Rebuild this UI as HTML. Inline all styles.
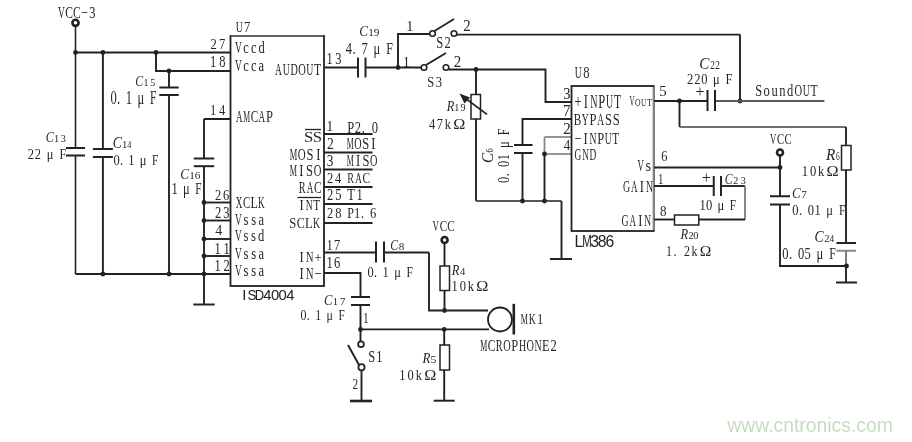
<!DOCTYPE html>
<html><head><meta charset="utf-8"><style>
html,body{margin:0;padding:0;background:#fff;width:912px;height:442px;overflow:hidden}
svg{display:block;will-change:transform}
</style></head><body>
<svg width="912" height="442" viewBox="0 0 912 442">
<text x="727.3" y="432" font-family="Liberation Sans" font-size="20.2" fill="#c6ddc2" textLength="165.5" lengthAdjust="spacingAndGlyphs">www.cntronics.com</text>
<circle cx="75.5" cy="22.8" r="3.1" fill="#fff" stroke="#222" stroke-width="2.6"/>
<line x1="75.5" y1="25.8" x2="75.5" y2="52.5" stroke="#222" stroke-width="1.6"/>
<line x1="75.5" y1="52.5" x2="230.5" y2="52.5" stroke="#222" stroke-width="1.9"/>
<circle cx="75.5" cy="52.5" r="2.4" fill="#222"/>
<circle cx="102.9" cy="52.5" r="2.4" fill="#222"/>
<circle cx="156" cy="52.5" r="2.4" fill="#222"/>
<line x1="75.5" y1="52.5" x2="75.5" y2="148" stroke="#222" stroke-width="1.6"/>
<line x1="75.5" y1="155.5" x2="75.5" y2="274" stroke="#222" stroke-width="1.6"/>
<line x1="66.0" y1="148" x2="85.0" y2="148" stroke="#222" stroke-width="2.0"/>
<line x1="66.0" y1="155.5" x2="85.0" y2="155.5" stroke="#222" stroke-width="2.0"/>
<line x1="102.9" y1="52.5" x2="102.9" y2="149" stroke="#222" stroke-width="1.9"/>
<line x1="102.9" y1="157" x2="102.9" y2="274" stroke="#222" stroke-width="1.9"/>
<line x1="92.9" y1="149" x2="112.9" y2="149" stroke="#222" stroke-width="2.0"/>
<line x1="92.9" y1="157" x2="112.9" y2="157" stroke="#222" stroke-width="2.0"/>
<polyline points="156,52.5 156,71 230.5,71" fill="none" stroke="#222" stroke-width="1.9"/>
<circle cx="169" cy="71" r="2.4" fill="#222"/>
<line x1="169" y1="71" x2="169" y2="87.5" stroke="#222" stroke-width="1.9"/>
<line x1="169" y1="95" x2="169" y2="274" stroke="#222" stroke-width="1.9"/>
<line x1="159.3" y1="87.5" x2="178.7" y2="87.5" stroke="#222" stroke-width="2.0"/>
<line x1="159.3" y1="95" x2="178.7" y2="95" stroke="#222" stroke-width="2.0"/>
<line x1="230.5" y1="119" x2="204" y2="119" stroke="#222" stroke-width="2.0"/>
<line x1="204" y1="119" x2="204" y2="158.5" stroke="#222" stroke-width="1.9"/>
<line x1="204" y1="166.2" x2="204" y2="304.5" stroke="#222" stroke-width="1.9"/>
<line x1="193.8" y1="158.5" x2="214.2" y2="158.5" stroke="#222" stroke-width="2.0"/>
<line x1="193.8" y1="166.2" x2="214.2" y2="166.2" stroke="#222" stroke-width="2.0"/>
<line x1="204" y1="202.5" x2="230.5" y2="202.5" stroke="#222" stroke-width="1.9"/>
<circle cx="204" cy="202.5" r="2.4" fill="#222"/>
<line x1="204" y1="220.5" x2="230.5" y2="220.5" stroke="#222" stroke-width="1.9"/>
<circle cx="204" cy="220.5" r="2.4" fill="#222"/>
<line x1="204" y1="239" x2="230.5" y2="239" stroke="#222" stroke-width="1.9"/>
<circle cx="204" cy="239" r="2.4" fill="#222"/>
<line x1="204" y1="256" x2="230.5" y2="256" stroke="#222" stroke-width="1.9"/>
<circle cx="204" cy="256" r="2.4" fill="#222"/>
<line x1="204" y1="274" x2="230.5" y2="274" stroke="#222" stroke-width="1.9"/>
<circle cx="204" cy="274" r="2.4" fill="#222"/>
<line x1="75.5" y1="274" x2="230.5" y2="274" stroke="#222" stroke-width="2.2"/>
<circle cx="102.9" cy="274" r="2.4" fill="#222"/>
<circle cx="169" cy="274" r="2.4" fill="#222"/>
<line x1="193.3" y1="304.5" x2="214.7" y2="304.5" stroke="#222" stroke-width="2.0"/>
<rect x="230.5" y="36" width="93.5" height="250" fill="#fff" stroke="#222" stroke-width="1.8"/>
<line x1="231.4" y1="36" x2="323.1" y2="36" stroke="#666" stroke-width="1.8"/>
<line x1="324" y1="134" x2="372.5" y2="134" stroke="#222" stroke-width="1.9"/>
<line x1="324" y1="152.5" x2="372.5" y2="152.5" stroke="#222" stroke-width="1.9"/>
<line x1="324" y1="169.5" x2="372.5" y2="169.5" stroke="#222" stroke-width="1.9"/>
<line x1="324" y1="187" x2="372.5" y2="187" stroke="#222" stroke-width="1.9"/>
<line x1="324" y1="204" x2="372.5" y2="204" stroke="#222" stroke-width="1.9"/>
<line x1="324" y1="223" x2="372.5" y2="223" stroke="#222" stroke-width="1.9"/>
<line x1="324" y1="67.5" x2="358" y2="67.5" stroke="#222" stroke-width="1.9"/>
<line x1="365.5" y1="67.5" x2="424" y2="67.5" stroke="#222" stroke-width="1.9"/>
<line x1="358" y1="57.5" x2="358" y2="77.5" stroke="#222" stroke-width="2.0"/>
<line x1="365.5" y1="57.5" x2="365.5" y2="77.5" stroke="#222" stroke-width="2.0"/>
<circle cx="398" cy="67.5" r="2.4" fill="#222"/>
<polyline points="398,67.5 398,34 430,34" fill="none" stroke="#222" stroke-width="1.9"/>
<polyline points="324,252.5 376,252.5" fill="none" stroke="#222" stroke-width="1.9"/>
<line x1="384" y1="252.5" x2="429" y2="252.5" stroke="#222" stroke-width="1.9"/>
<line x1="376" y1="241.5" x2="376" y2="262.5" stroke="#222" stroke-width="2.0"/>
<line x1="384" y1="241.5" x2="384" y2="262.5" stroke="#222" stroke-width="2.0"/>
<polyline points="429,252.5 429,310.5 488,310.5" fill="none" stroke="#222" stroke-width="1.9"/>
<polyline points="324,273 360.5,273 360.5,297" fill="none" stroke="#222" stroke-width="1.9"/>
<line x1="351" y1="297" x2="370" y2="297" stroke="#222" stroke-width="2.0"/>
<line x1="351" y1="305" x2="370" y2="305" stroke="#222" stroke-width="2.0"/>
<line x1="360.5" y1="305" x2="360.5" y2="329.4" stroke="#222" stroke-width="1.9"/>
<circle cx="360.5" cy="329.4" r="2.4" fill="#222"/>
<line x1="360.5" y1="329.4" x2="489" y2="329.4" stroke="#222" stroke-width="1.9"/>
<circle cx="361" cy="344.2" r="2.9" fill="#fff" stroke="#222" stroke-width="1.8"/>
<line x1="360.5" y1="329.4" x2="360.5" y2="341.5" stroke="#222" stroke-width="1.9"/>
<line x1="348" y1="345" x2="359" y2="365" stroke="#222" stroke-width="1.9"/>
<circle cx="361.5" cy="367.2" r="3.1" fill="#fff" stroke="#222" stroke-width="1.8"/>
<line x1="361.5" y1="370.3" x2="361.5" y2="401" stroke="#222" stroke-width="1.9"/>
<line x1="350" y1="401" x2="372" y2="401" stroke="#222" stroke-width="2.6"/>
<circle cx="444.6" cy="240" r="3.0" fill="#fff" stroke="#222" stroke-width="2.6"/>
<line x1="444.5" y1="242.3" x2="444.5" y2="310.5" stroke="#222" stroke-width="1.9"/>
<rect x="440" y="266" width="9.5" height="24.5" fill="#fff" stroke="#222" stroke-width="1.5"/>
<circle cx="444.5" cy="310.5" r="2.4" fill="#222"/>
<circle cx="444.2" cy="329.4" r="2.4" fill="#222"/>
<line x1="444.2" y1="329.4" x2="444.2" y2="400.7" stroke="#222" stroke-width="1.9"/>
<rect x="440" y="345" width="9.5" height="25" fill="#fff" stroke="#222" stroke-width="1.5"/>
<line x1="433.7" y1="400.7" x2="454.7" y2="400.7" stroke="#222" stroke-width="2.0"/>
<circle cx="500" cy="319.5" r="12" fill="#fff" stroke="#1e1e1e" stroke-width="1.8"/>
<line x1="513.8" y1="303.8" x2="513.8" y2="334.5" stroke="#222" stroke-width="2.6"/>
<circle cx="432.5" cy="33.5" r="2.8" fill="#fff" stroke="#222" stroke-width="1.6"/>
<circle cx="454" cy="33.5" r="2.8" fill="#fff" stroke="#222" stroke-width="1.6"/>
<line x1="434.5" y1="31" x2="454" y2="19" stroke="#222" stroke-width="1.9"/>
<line x1="456.8" y1="34.6" x2="740" y2="34.6" stroke="#222" stroke-width="1.9"/>
<polyline points="740,34.6 740,101" fill="none" stroke="#222" stroke-width="1.9"/>
<circle cx="740" cy="101" r="2.4" fill="#222"/>
<circle cx="424" cy="67.5" r="2.8" fill="#fff" stroke="#222" stroke-width="1.6"/>
<circle cx="446" cy="67.5" r="2.8" fill="#fff" stroke="#222" stroke-width="1.6"/>
<line x1="426" y1="65" x2="446" y2="53" stroke="#222" stroke-width="1.9"/>
<polyline points="448.8,69.5 545.5,69.5 545.5,102 571,102" fill="none" stroke="#222" stroke-width="1.9"/>
<circle cx="476" cy="69.5" r="2.4" fill="#222"/>
<line x1="476" y1="69.5" x2="476" y2="201" stroke="#222" stroke-width="1.9"/>
<rect x="471" y="94.5" width="9.5" height="24.5" fill="#fff" stroke="#222" stroke-width="1.5"/>
<line x1="463" y1="96.5" x2="487" y2="114.4" stroke="#222" stroke-width="1.8"/>
<polygon points="459.5,93.5 470,97.5 464.5,103.5" fill="#222"/>
<line x1="476" y1="201" x2="561.5" y2="201" stroke="#555" stroke-width="1.9"/>
<line x1="561.5" y1="201" x2="561.5" y2="259" stroke="#222" stroke-width="1.9"/>
<line x1="550" y1="259" x2="572" y2="259" stroke="#222" stroke-width="2.0"/>
<polyline points="571,119 522.5,119 522.5,145" fill="none" stroke="#222" stroke-width="1.9"/>
<line x1="514" y1="145" x2="532.5" y2="145" stroke="#222" stroke-width="2.0"/>
<line x1="514" y1="153" x2="532.5" y2="153" stroke="#222" stroke-width="2.0"/>
<line x1="522.5" y1="153" x2="522.5" y2="201" stroke="#222" stroke-width="1.9"/>
<circle cx="522.5" cy="201" r="2.4" fill="#222"/>
<line x1="544.5" y1="137" x2="571" y2="137" stroke="#8a8a8a" stroke-width="1.8"/>
<line x1="544.5" y1="154" x2="571" y2="154" stroke="#8a8a8a" stroke-width="1.8"/>
<line x1="544.5" y1="137" x2="544.5" y2="154" stroke="#8a8a8a" stroke-width="1.8"/>
<line x1="544.5" y1="154" x2="544.5" y2="201" stroke="#222" stroke-width="1.9"/>
<circle cx="544.5" cy="154" r="2.4" fill="#222"/>
<circle cx="544.5" cy="201" r="2.4" fill="#222"/>
<rect x="571.5" y="86" width="82.25" height="145" fill="#fff" stroke="#222" stroke-width="1.8"/>
<line x1="653.75" y1="87" x2="653.75" y2="230" stroke="#858585" stroke-width="1.8"/>
<line x1="654" y1="101" x2="707.5" y2="101" stroke="#222" stroke-width="1.9"/>
<line x1="715" y1="101" x2="824.4" y2="101" stroke="#5a5a5a" stroke-width="1.9"/>
<line x1="707.5" y1="90" x2="707.5" y2="111" stroke="#222" stroke-width="2.0"/>
<line x1="715" y1="90" x2="715" y2="111" stroke="#222" stroke-width="2.0"/>
<circle cx="679.5" cy="101" r="2.4" fill="#222"/>
<line x1="679.5" y1="101" x2="679.5" y2="127" stroke="#222" stroke-width="1.9"/>
<line x1="679.5" y1="127" x2="846" y2="127" stroke="#707070" stroke-width="1.9"/>
<line x1="846" y1="127" x2="846" y2="243" stroke="#222" stroke-width="1.9"/>
<rect x="841.5" y="145.5" width="9.5" height="24.5" fill="#fff" stroke="#222" stroke-width="1.5"/>
<line x1="836.5" y1="243" x2="856" y2="243" stroke="#222" stroke-width="2.0"/>
<line x1="836.5" y1="250.75" x2="856" y2="250.75" stroke="#8a8a8a" stroke-width="2.0"/>
<line x1="846" y1="250.75" x2="846" y2="266" stroke="#777" stroke-width="1.9"/>
<line x1="846" y1="266" x2="846" y2="282.5" stroke="#222" stroke-width="1.9"/>
<line x1="836.0" y1="282.5" x2="857.0" y2="282.5" stroke="#222" stroke-width="2.0"/>
<circle cx="846.5" cy="266" r="2.4" fill="#222"/>
<line x1="654" y1="167.5" x2="780" y2="167.5" stroke="#222" stroke-width="1.9"/>
<circle cx="780" cy="167.5" r="2.4" fill="#222"/>
<circle cx="780" cy="152.5" r="3.0" fill="#fff" stroke="#222" stroke-width="2.6"/>
<line x1="780" y1="155.3" x2="780" y2="196.25" stroke="#222" stroke-width="1.9"/>
<line x1="770" y1="196.25" x2="790" y2="196.25" stroke="#222" stroke-width="2.0"/>
<line x1="770" y1="204.5" x2="790" y2="204.5" stroke="#222" stroke-width="2.0"/>
<polyline points="780,204.5 780,266 846,266" fill="none" stroke="#222" stroke-width="1.9"/>
<line x1="654" y1="186" x2="713.75" y2="186" stroke="#222" stroke-width="1.9"/>
<line x1="713.75" y1="176" x2="713.75" y2="196" stroke="#222" stroke-width="2.0"/>
<line x1="721" y1="176" x2="721" y2="196" stroke="#222" stroke-width="2.0"/>
<line x1="721" y1="186" x2="745" y2="186" stroke="#222" stroke-width="1.9"/>
<line x1="745" y1="186" x2="745" y2="219.5" stroke="#7a7a7a" stroke-width="1.8"/>
<line x1="745" y1="219.5" x2="698.75" y2="219.5" stroke="#222" stroke-width="1.9"/>
<line x1="654" y1="219.5" x2="674.5" y2="219.5" stroke="#222" stroke-width="1.9"/>
<rect x="674.5" y="215" width="24.25" height="10" fill="#fff" stroke="#222" stroke-width="1.5"/>
<g font-family="Liberation Serif" fill="#262626"><text transform="matrix(0.538 0 0 1 57.89 17.5)" font-size="17.56">V</text><text transform="matrix(0.659 0 0 1 65.30 17.5)" font-size="17.56">C</text><text transform="matrix(0.659 0 0 1 73.08 17.5)" font-size="17.56">C</text><text transform="matrix(0.713 0 0 1 81.10 17.5)" font-size="17.56">−</text><text transform="matrix(0.713 0 0 1 89.23 17.5)" font-size="17.56">3</text></g>
<g font-family="Liberation Serif" fill="#262626"><text transform="matrix(0.820 0 0 1 210.45 49)" font-size="15.27">2</text><text transform="matrix(0.820 0 0 1 219.10 49)" font-size="15.27">7</text></g>
<g font-family="Liberation Serif" fill="#262626"><text transform="matrix(0.745 0 0 1 209.90 67)" font-size="16.80">1</text><text transform="matrix(0.745 0 0 1 219.22 67)" font-size="16.80">8</text></g>
<g font-family="Liberation Serif" fill="#262626"><text transform="matrix(0.865 0 0 1 135.34 86)" font-size="13.74" font-style="italic">C</text></g>
<g font-family="Liberation Serif" fill="#262626"><text transform="matrix(1.050 0 0 1 143.39 86)" font-size="9.62">1</text><text transform="matrix(1.050 0 0 1 150.34 86)" font-size="9.62">5</text></g>
<g font-family="Liberation Serif" fill="#262626"><text transform="matrix(0.683 0 0 1 110.52 104)" font-size="18.33">0</text><text transform="matrix(0.683 0 0 1 117.11 104)" font-size="18.33">.</text><text transform="matrix(0.683 0 0 1 125.75 104)" font-size="18.33">1</text><text transform="matrix(0.683 0 0 1 137.50 104)" font-size="18.33">μ</text><text transform="matrix(0.632 0 0 1 149.98 104)" font-size="18.33">F</text></g>
<g font-family="Liberation Serif" fill="#262626"><text transform="matrix(0.865 0 0 1 45.82 141.8)" font-size="14.05" font-style="italic">C</text></g>
<g font-family="Liberation Serif" fill="#262626"><text transform="matrix(1.050 0 0 1 54.06 141.8)" font-size="9.84">1</text><text transform="matrix(1.050 0 0 1 60.84 141.8)" font-size="9.84">3</text></g>
<g font-family="Liberation Serif" fill="#262626"><text transform="matrix(0.820 0 0 1 27.85 158.5)" font-size="15.27">2</text><text transform="matrix(0.820 0 0 1 34.75 158.5)" font-size="15.27">2</text><text transform="matrix(0.820 0 0 1 46.63 158.5)" font-size="15.27">μ</text><text transform="matrix(0.782 0 0 1 59.39 158.5)" font-size="15.27">F</text></g>
<g font-family="Liberation Serif" fill="#262626"><text transform="matrix(0.865 0 0 1 112.64 148.1)" font-size="15.88" font-style="italic">C</text></g>
<g font-family="Liberation Serif" fill="#262626"><text transform="matrix(0.969 0 0 1 122.02 148.1)" font-size="11.12">1</text><text transform="matrix(0.734 0 0 1 127.25 148.1)" font-size="11.12">4</text></g>
<g font-family="Liberation Serif" fill="#262626"><text transform="matrix(0.828 0 0 1 113.52 164.8)" font-size="15.12">0</text><text transform="matrix(0.828 0 0 1 119.98 164.8)" font-size="15.12">.</text><text transform="matrix(0.828 0 0 1 128.35 164.8)" font-size="15.12">1</text><text transform="matrix(0.828 0 0 1 139.78 164.8)" font-size="15.12">μ</text><text transform="matrix(0.746 0 0 1 152.03 164.8)" font-size="15.12">F</text></g>
<g font-family="Liberation Serif" fill="#262626"><text transform="matrix(0.820 0 0 1 209.90 115)" font-size="15.27">1</text><text transform="matrix(0.820 0 0 1 218.93 115)" font-size="15.27">4</text></g>
<g font-family="Liberation Serif" fill="#262626"><text transform="matrix(0.542 0 0 1 235.91 122)" font-size="16.80">A</text><text transform="matrix(0.460 0 0 1 243.34 122)" font-size="16.80">M</text><text transform="matrix(0.670 0 0 1 250.66 122)" font-size="16.80">C</text><text transform="matrix(0.542 0 0 1 258.59 122)" font-size="16.80">A</text><text transform="matrix(0.745 0 0 1 266.04 122)" font-size="16.80">P</text></g>
<g font-family="Liberation Serif" fill="#262626"><text transform="matrix(0.865 0 0 1 180.26 179)" font-size="15.27" font-style="italic">C</text></g>
<g font-family="Liberation Serif" fill="#262626"><text transform="matrix(1.050 0 0 1 189.21 179)" font-size="10.69">1</text><text transform="matrix(1.050 0 0 1 194.72 179)" font-size="10.69">6</text></g>
<g font-family="Liberation Serif" fill="#262626"><text transform="matrix(0.713 0 0 1 171.50 194.3)" font-size="17.56">1</text><text transform="matrix(0.713 0 0 1 182.91 194.3)" font-size="17.56">μ</text><text transform="matrix(0.641 0 0 1 195.14 194.3)" font-size="17.56">F</text></g>
<g font-family="Liberation Serif" fill="#262626"><text transform="matrix(0.820 0 0 1 214.95 200)" font-size="15.27">2</text><text transform="matrix(0.820 0 0 1 223.11 200)" font-size="15.27">6</text></g>
<g font-family="Liberation Serif" fill="#262626"><text transform="matrix(0.521 0 0 1 235.80 207.5)" font-size="17.56">X</text><text transform="matrix(0.623 0 0 1 242.97 207.5)" font-size="17.56">C</text><text transform="matrix(0.681 0 0 1 250.49 207.5)" font-size="17.56">L</text><text transform="matrix(0.520 0 0 1 258.00 207.5)" font-size="17.56">K</text></g>
<g font-family="Liberation Serif" fill="#262626"><text transform="matrix(0.781 0 0 1 214.95 218)" font-size="16.04">2</text><text transform="matrix(0.781 0 0 1 223.23 218)" font-size="16.04">3</text></g>
<g font-family="Liberation Serif" fill="#262626"><text transform="matrix(0.560 0 0 1 234.89 225)" font-size="16.80">V</text><text transform="matrix(0.745 0 0 1 243.57 225)" font-size="16.80">s</text><text transform="matrix(0.745 0 0 1 251.31 225)" font-size="16.80">s</text><text transform="matrix(0.745 0 0 1 258.61 225)" font-size="16.80">a</text></g>
<g font-family="Liberation Serif" fill="#262626"><text transform="matrix(0.916 0 0 1 215.23 235)" font-size="15.27">4</text></g>
<g font-family="Liberation Serif" fill="#262626"><text transform="matrix(0.552 0 0 1 234.90 241)" font-size="16.80">V</text><text transform="matrix(0.745 0 0 1 243.42 241)" font-size="16.80">s</text><text transform="matrix(0.745 0 0 1 251.06 241)" font-size="16.80">s</text><text transform="matrix(0.745 0 0 1 257.89 241)" font-size="16.80">d</text></g>
<g font-family="Liberation Serif" fill="#262626"><text transform="matrix(0.713 0 0 1 214.40 254)" font-size="17.56">1</text><text transform="matrix(0.713 0 0 1 223.49 254)" font-size="17.56">1</text></g>
<g font-family="Liberation Serif" fill="#262626"><text transform="matrix(0.535 0 0 1 234.89 259)" font-size="17.56">V</text><text transform="matrix(0.713 0 0 1 243.57 259)" font-size="17.56">s</text><text transform="matrix(0.713 0 0 1 251.31 259)" font-size="17.56">s</text><text transform="matrix(0.713 0 0 1 258.61 259)" font-size="17.56">a</text></g>
<g font-family="Liberation Serif" fill="#262626"><text transform="matrix(0.745 0 0 1 214.40 271)" font-size="16.80">1</text><text transform="matrix(0.745 0 0 1 223.43 271)" font-size="16.80">2</text></g>
<g font-family="Liberation Serif" fill="#262626"><text transform="matrix(0.586 0 0 1 234.89 276)" font-size="16.04">V</text><text transform="matrix(0.781 0 0 1 243.57 276)" font-size="16.04">s</text><text transform="matrix(0.781 0 0 1 251.31 276)" font-size="16.04">s</text><text transform="matrix(0.781 0 0 1 258.61 276)" font-size="16.04">a</text></g>
<g font-family="Liberation Sans" fill="#222"><text transform="matrix(1.000 0 0 1 242.33 299.5)" font-size="14.83">I</text><text transform="matrix(0.898 0 0 1 247.62 299.5)" font-size="14.83">S</text><text transform="matrix(0.873 0 0 1 254.82 299.5)" font-size="14.83">D</text><text transform="matrix(1.000 0 0 1 263.30 299.5)" font-size="14.83">4</text><text transform="matrix(1.000 0 0 1 270.92 299.5)" font-size="14.83">0</text><text transform="matrix(1.000 0 0 1 278.58 299.5)" font-size="14.83">0</text><text transform="matrix(1.000 0 0 1 286.29 299.5)" font-size="14.83">4</text></g>
<g font-family="Liberation Serif" fill="#262626"><text transform="matrix(0.646 0 0 1 235.79 32)" font-size="15.27">U</text><text transform="matrix(0.820 0 0 1 244.10 32)" font-size="15.27">7</text></g>
<g font-family="Liberation Serif" fill="#262626"><text transform="matrix(0.589 0 0 1 234.89 53)" font-size="16.04">V</text><text transform="matrix(0.781 0 0 1 243.27 53)" font-size="16.04">c</text><text transform="matrix(0.781 0 0 1 251.06 53)" font-size="16.04">c</text><text transform="matrix(0.781 0 0 1 258.39 53)" font-size="16.04">d</text></g>
<g font-family="Liberation Serif" fill="#262626"><text transform="matrix(0.560 0 0 1 234.89 71)" font-size="16.80">V</text><text transform="matrix(0.745 0 0 1 243.21 71)" font-size="16.80">c</text><text transform="matrix(0.745 0 0 1 250.96 71)" font-size="16.80">c</text><text transform="matrix(0.745 0 0 1 258.61 71)" font-size="16.80">a</text></g>
<g font-family="Liberation Serif" fill="#262626"><text transform="matrix(0.591 0 0 1 274.91 74.5)" font-size="16.04">A</text><text transform="matrix(0.612 0 0 1 282.66 74.5)" font-size="16.04">U</text><text transform="matrix(0.637 0 0 1 290.43 74.5)" font-size="16.04">D</text><text transform="matrix(0.650 0 0 1 298.17 74.5)" font-size="16.04">O</text><text transform="matrix(0.612 0 0 1 306.25 74.5)" font-size="16.04">U</text><text transform="matrix(0.723 0 0 1 314.11 74.5)" font-size="16.04">T</text></g>
<g font-family="Liberation Serif" fill="#262626"><text transform="matrix(0.732 0 0 1 326.40 64)" font-size="17.10">1</text><text transform="matrix(0.732 0 0 1 335.23 64)" font-size="17.10">3</text></g>
<g font-family="Liberation Serif" fill="#262626"><text transform="matrix(0.865 0 0 1 359.26 36)" font-size="15.27" font-style="italic">C</text></g>
<g font-family="Liberation Serif" fill="#262626"><text transform="matrix(1.050 0 0 1 368.21 36)" font-size="10.69">1</text><text transform="matrix(1.050 0 0 1 373.85 36)" font-size="10.69">9</text></g>
<g font-family="Liberation Serif" fill="#262626"><text transform="matrix(0.713 0 0 1 345.76 54)" font-size="17.56">4</text><text transform="matrix(0.713 0 0 1 352.51 54)" font-size="17.56">.</text><text transform="matrix(0.713 0 0 1 361.40 54)" font-size="17.56">7</text><text transform="matrix(0.713 0 0 1 373.56 54)" font-size="17.56">μ</text><text transform="matrix(0.679 0 0 1 386.30 54)" font-size="17.56">F</text></g>
<g font-family="Liberation Serif" fill="#262626"><text transform="matrix(0.930 0 0 1 406.25 31)" font-size="15.27">1</text></g>
<g font-family="Liberation Serif" fill="#262626"><text transform="matrix(0.979 0 0 1 402.75 67)" font-size="14.51">1</text></g>
<g font-family="Liberation Serif" fill="#262626"><text transform="matrix(0.781 0 0 1 436.16 48)" font-size="16.04">S</text><text transform="matrix(0.781 0 0 1 444.43 48)" font-size="16.04">2</text></g>
<g font-family="Liberation Serif" fill="#262626"><text transform="matrix(0.891 0 0 1 463.34 31)" font-size="16.80">2</text></g>
<g font-family="Liberation Serif" fill="#262626"><text transform="matrix(0.820 0 0 1 427.16 86.8)" font-size="15.27">S</text><text transform="matrix(0.820 0 0 1 435.63 86.8)" font-size="15.27">3</text></g>
<g font-family="Liberation Serif" fill="#262626"><text transform="matrix(0.891 0 0 1 453.84 67)" font-size="16.80">2</text></g>
<g font-family="Liberation Serif" fill="#262626"><text transform="matrix(0.608 0 0 1 574.80 77.5)" font-size="16.04">U</text><text transform="matrix(0.781 0 0 1 583.22 77.5)" font-size="16.04">8</text></g>
<g font-family="Liberation Serif" fill="#262626"><text transform="matrix(0.827 0 0 1 563.30 99)" font-size="17.56">3</text></g>
<g font-family="Liberation Serif" fill="#262626"><text transform="matrix(0.656 0 0 1 574.38 107.5)" font-size="19.09">+</text><text transform="matrix(0.656 0 0 1 583.76 107.5)" font-size="19.09">I</text><text transform="matrix(0.527 0 0 1 590.13 107.5)" font-size="19.09">N</text><text transform="matrix(0.656 0 0 1 598.33 107.5)" font-size="19.09">P</text><text transform="matrix(0.520 0 0 1 606.10 107.5)" font-size="19.09">U</text><text transform="matrix(0.614 0 0 1 614.04 107.5)" font-size="19.09">T</text></g>
<g font-family="Liberation Serif" fill="#262626"><text transform="matrix(0.895 0 0 1 446.87 111)" font-size="13.90" font-style="italic">R</text></g>
<g font-family="Liberation Serif" fill="#262626"><text transform="matrix(1.050 0 0 1 454.27 111)" font-size="9.73">1</text><text transform="matrix(1.050 0 0 1 460.51 111)" font-size="9.73">9</text></g>
<g font-family="Liberation Serif" fill="#262626"><text transform="matrix(0.812 0 0 1 428.96 128.7)" font-size="15.42">4</text><text transform="matrix(0.812 0 0 1 436.71 128.7)" font-size="15.42">7</text><text transform="matrix(0.812 0 0 1 444.79 128.7)" font-size="15.42">k</text><text transform="matrix(1.055 0 0 1 453.14 128.7)" font-size="15.42">Ω</text></g>
<g font-family="Liberation Serif" fill="#262626"><text transform="matrix(0.881 0 0 1 563.02 116)" font-size="16.80">7</text></g>
<g font-family="Liberation Serif" fill="#262626"><text transform="matrix(0.670 0 0 1 573.68 125)" font-size="16.80">B</text><text transform="matrix(0.576 0 0 1 581.69 125)" font-size="16.80">Y</text><text transform="matrix(0.745 0 0 1 589.51 125)" font-size="16.80">P</text><text transform="matrix(0.560 0 0 1 597.31 125)" font-size="16.80">A</text><text transform="matrix(0.745 0 0 1 605.01 125)" font-size="16.80">S</text><text transform="matrix(0.745 0 0 1 612.81 125)" font-size="16.80">S</text></g>
<g font-family="Liberation Serif" fill="#262626"><text transform="matrix(0.852 0 0 1 563.34 134)" font-size="17.56">2</text></g>
<g font-family="Liberation Serif" fill="#262626"><text transform="matrix(0.713 0 0 1 574.38 144)" font-size="17.56">−</text><text transform="matrix(0.713 0 0 1 583.40 144)" font-size="17.56">I</text><text transform="matrix(0.547 0 0 1 589.57 144)" font-size="17.56">N</text><text transform="matrix(0.713 0 0 1 597.22 144)" font-size="17.56">P</text><text transform="matrix(0.539 0 0 1 604.79 144)" font-size="17.56">U</text><text transform="matrix(0.636 0 0 1 612.36 144)" font-size="17.56">T</text></g>
<g font-family="Liberation Serif" fill="#262626"><text transform="matrix(0.845 0 0 1 563.75 150)" font-size="15.27">4</text></g>
<g font-family="Liberation Serif" fill="#262626"><text transform="matrix(0.560 0 0 1 574.61 160)" font-size="16.80">G</text><text transform="matrix(0.543 0 0 1 582.18 160)" font-size="16.80">N</text><text transform="matrix(0.557 0 0 1 589.61 160)" font-size="16.80">D</text></g>
<g transform="translate(492.5,162.2) rotate(-90) translate(0,-152)"><g font-family="Liberation Serif" fill="#262626"><text transform="matrix(0.971 0 0 1 -0.85 152)" font-size="15.73" font-style="italic">C</text></g></g>
<g transform="translate(492.5,162.2) rotate(-90) translate(0,-152)"><g font-family="Liberation Serif" fill="#262626"><text transform="matrix(0.895 0 0 1 9.63 152)" font-size="9.44">6</text></g></g>
<g transform="translate(508.8,182.5) rotate(-90) translate(0,-182.5)"><g font-family="Liberation Serif" fill="#262626"><text transform="matrix(0.781 0 0 1 -0.48 182.5)" font-size="16.04">0</text><text transform="matrix(0.781 0 0 1 6.29 182.5)" font-size="16.04">.</text><text transform="matrix(0.781 0 0 1 15.49 182.5)" font-size="16.04">0</text><text transform="matrix(0.781 0 0 1 22.26 182.5)" font-size="16.04">1</text><text transform="matrix(0.781 0 0 1 34.45 182.5)" font-size="16.04">μ</text><text transform="matrix(0.749 0 0 1 47.25 182.5)" font-size="16.04">F</text></g></g>
<g font-family="Liberation Sans" fill="#222"><text transform="matrix(1.000 0 0 1 574.51 246.8)" font-size="15.70">L</text><text transform="matrix(0.729 0 0 1 582.15 246.8)" font-size="15.70">M</text><text transform="matrix(1.000 0 0 1 590.25 246.8)" font-size="15.70">3</text><text transform="matrix(1.000 0 0 1 597.86 246.8)" font-size="15.70">8</text><text transform="matrix(1.000 0 0 1 605.46 246.8)" font-size="15.70">6</text></g>
<g font-family="Liberation Serif" fill="#262626"><text transform="matrix(0.589 0 0 1 432.40 231)" font-size="15.27">V</text><text transform="matrix(0.722 0 0 1 439.65 231)" font-size="15.27">C</text><text transform="matrix(0.722 0 0 1 447.25 231)" font-size="15.27">C</text></g>
<g font-family="Liberation Serif" fill="#262626"><text transform="matrix(0.895 0 0 1 451.87 274.6)" font-size="14.05" font-style="italic">R</text></g>
<g font-family="Liberation Serif" fill="#262626"><text transform="matrix(1.080 0 0 1 460.06 274.6)" font-size="9.84">4</text></g>
<g font-family="Liberation Serif" fill="#262626"><text transform="matrix(0.820 0 0 1 451.40 291)" font-size="15.27">1</text><text transform="matrix(0.820 0 0 1 459.69 291)" font-size="15.27">0</text><text transform="matrix(0.820 0 0 1 467.68 291)" font-size="15.27">k</text><text transform="matrix(1.066 0 0 1 476.24 291)" font-size="15.27">Ω</text></g>
<g font-family="Liberation Serif" fill="#262626"><text transform="matrix(0.930 0 0 1 326.25 131)" font-size="15.27">1</text></g>
<g font-family="Liberation Serif" fill="#262626"><text transform="matrix(0.781 0 0 1 347.14 132.5)" font-size="16.04">P</text><text transform="matrix(0.781 0 0 1 354.85 132.5)" font-size="16.04">2</text><text transform="matrix(0.781 0 0 1 361.87 132.5)" font-size="16.04">.</text><text transform="matrix(0.781 0 0 1 371.72 132.5)" font-size="16.04">0</text></g>
<g font-family="Liberation Serif" fill="#262626"><text transform="matrix(1.150 0 0 1 303.88 142)" font-size="14.51">S</text><text transform="matrix(1.150 0 0 1 312.76 142)" font-size="14.51">S</text></g>
<line x1="305" y1="129.5" x2="321" y2="129.5" stroke="#262626" stroke-width="1.3"/>
<g font-family="Liberation Serif" fill="#262626"><text transform="matrix(0.781 0 0 1 326.90 149)" font-size="17.56">2</text></g>
<g font-family="Liberation Serif" fill="#262626"><text transform="matrix(0.447 0 0 1 346.77 149)" font-size="17.56">M</text><text transform="matrix(0.581 0 0 1 354.28 149)" font-size="17.56">O</text><text transform="matrix(0.713 0 0 1 362.15 149)" font-size="17.56">S</text><text transform="matrix(0.713 0 0 1 371.27 149)" font-size="17.56">I</text></g>
<g font-family="Liberation Serif" fill="#262626"><text transform="matrix(0.527 0 0 1 289.76 159.5)" font-size="16.04">M</text><text transform="matrix(0.685 0 0 1 297.83 159.5)" font-size="16.04">O</text><text transform="matrix(0.781 0 0 1 306.57 159.5)" font-size="16.04">S</text><text transform="matrix(0.781 0 0 1 316.27 159.5)" font-size="16.04">I</text></g>
<g font-family="Liberation Serif" fill="#262626"><text transform="matrix(0.830 0 0 1 326.86 165.5)" font-size="16.04">3</text></g>
<g font-family="Liberation Serif" fill="#262626"><text transform="matrix(0.493 0 0 1 346.77 165.5)" font-size="16.04">M</text><text transform="matrix(0.781 0 0 1 356.00 165.5)" font-size="16.04">I</text><text transform="matrix(0.781 0 0 1 362.39 165.5)" font-size="16.04">S</text><text transform="matrix(0.639 0 0 1 370.01 165.5)" font-size="16.04">O</text></g>
<g font-family="Liberation Serif" fill="#262626"><text transform="matrix(0.510 0 0 1 289.76 176)" font-size="16.04">M</text><text transform="matrix(0.781 0 0 1 299.37 176)" font-size="16.04">I</text><text transform="matrix(0.781 0 0 1 306.02 176)" font-size="16.04">S</text><text transform="matrix(0.661 0 0 1 313.77 176)" font-size="16.04">O</text></g>
<g font-family="Liberation Serif" fill="#262626"><text transform="matrix(0.820 0 0 1 326.95 182.5)" font-size="15.27">2</text><text transform="matrix(0.820 0 0 1 334.93 182.5)" font-size="15.27">4</text></g>
<g font-family="Liberation Serif" fill="#262626"><text transform="matrix(0.667 0 0 1 347.21 182.5)" font-size="15.27">R</text><text transform="matrix(0.602 0 0 1 355.17 182.5)" font-size="15.27">A</text><text transform="matrix(0.744 0 0 1 362.55 182.5)" font-size="15.27">C</text></g>
<g font-family="Liberation Serif" fill="#262626"><text transform="matrix(0.635 0 0 1 298.71 193)" font-size="16.04">R</text><text transform="matrix(0.574 0 0 1 306.67 193)" font-size="16.04">A</text><text transform="matrix(0.708 0 0 1 314.05 193)" font-size="16.04">C</text></g>
<g font-family="Liberation Serif" fill="#262626"><text transform="matrix(0.745 0 0 1 326.95 200)" font-size="16.80">2</text><text transform="matrix(0.745 0 0 1 335.23 200)" font-size="16.80">5</text></g>
<g font-family="Liberation Serif" fill="#262626"><text transform="matrix(0.745 0 0 1 347.27 200)" font-size="16.80">T</text><text transform="matrix(0.745 0 0 1 356.49 200)" font-size="16.80">1</text></g>
<g font-family="Liberation Serif" fill="#262626"><text transform="matrix(0.820 0 0 1 299.55 210)" font-size="15.27">I</text><text transform="matrix(0.628 0 0 1 305.72 210)" font-size="15.27">N</text><text transform="matrix(0.731 0 0 1 313.37 210)" font-size="15.27">T</text></g>
<line x1="297.5" y1="197.5" x2="321" y2="197.5" stroke="#262626" stroke-width="1.3"/>
<g font-family="Liberation Serif" fill="#262626"><text transform="matrix(0.820 0 0 1 326.95 217.5)" font-size="15.27">2</text><text transform="matrix(0.820 0 0 1 335.22 217.5)" font-size="15.27">8</text></g>
<g font-family="Liberation Serif" fill="#262626"><text transform="matrix(0.792 0 0 1 347.15 217.5)" font-size="15.27">P</text><text transform="matrix(0.820 0 0 1 354.07 217.5)" font-size="15.27">1</text><text transform="matrix(0.820 0 0 1 361.01 217.5)" font-size="15.27">.</text><text transform="matrix(0.820 0 0 1 370.11 217.5)" font-size="15.27">6</text></g>
<g font-family="Liberation Serif" fill="#262626"><text transform="matrix(0.820 0 0 1 289.16 228)" font-size="15.27">S</text><text transform="matrix(0.777 0 0 1 296.78 228)" font-size="15.27">C</text><text transform="matrix(0.820 0 0 1 305.00 228)" font-size="15.27">L</text><text transform="matrix(0.650 0 0 1 312.94 228)" font-size="15.27">K</text></g>
<g font-family="Liberation Serif" fill="#262626"><text transform="matrix(0.820 0 0 1 299.55 262)" font-size="15.27">I</text><text transform="matrix(0.683 0 0 1 306.07 262)" font-size="15.27">N</text><text transform="matrix(0.820 0 0 1 314.55 262)" font-size="15.27">+</text></g>
<g font-family="Liberation Serif" fill="#262626"><text transform="matrix(0.781 0 0 1 299.55 278.5)" font-size="16.04">I</text><text transform="matrix(0.650 0 0 1 306.07 278.5)" font-size="16.04">N</text><text transform="matrix(0.781 0 0 1 314.55 278.5)" font-size="16.04">−</text></g>
<g font-family="Liberation Serif" fill="#262626"><text transform="matrix(0.820 0 0 1 326.40 250)" font-size="15.27">1</text><text transform="matrix(0.820 0 0 1 334.10 250)" font-size="15.27">7</text></g>
<g font-family="Liberation Serif" fill="#262626"><text transform="matrix(0.781 0 0 1 326.40 268)" font-size="16.04">1</text><text transform="matrix(0.781 0 0 1 334.11 268)" font-size="16.04">6</text></g>
<g font-family="Liberation Serif" fill="#262626"><text transform="matrix(0.865 0 0 1 390.34 250)" font-size="13.74" font-style="italic">C</text></g>
<g font-family="Liberation Serif" fill="#262626"><text transform="matrix(1.157 0 0 1 398.86 250)" font-size="9.62">8</text></g>
<g font-family="Liberation Serif" fill="#262626"><text transform="matrix(0.820 0 0 1 367.52 277)" font-size="15.27">0</text><text transform="matrix(0.820 0 0 1 374.05 277)" font-size="15.27">.</text><text transform="matrix(0.820 0 0 1 382.57 277)" font-size="15.27">1</text><text transform="matrix(0.820 0 0 1 394.17 277)" font-size="15.27">μ</text><text transform="matrix(0.750 0 0 1 406.55 277)" font-size="15.27">F</text></g>
<g font-family="Liberation Serif" fill="#262626"><text transform="matrix(0.865 0 0 1 324.09 305)" font-size="14.66" font-style="italic">C</text></g>
<g font-family="Liberation Serif" fill="#262626"><text transform="matrix(1.050 0 0 1 332.68 305)" font-size="10.26">1</text><text transform="matrix(1.050 0 0 1 339.92 305)" font-size="10.26">7</text></g>
<g font-family="Liberation Serif" fill="#262626"><text transform="matrix(0.850 0 0 1 300.45 320.2)" font-size="14.05">0</text><text transform="matrix(0.850 0 0 1 306.80 320.2)" font-size="14.05">.</text><text transform="matrix(0.850 0 0 1 315.18 320.2)" font-size="14.05">1</text><text transform="matrix(0.850 0 0 1 326.55 320.2)" font-size="14.05">μ</text><text transform="matrix(0.798 0 0 1 338.57 320.2)" font-size="14.05">F</text></g>
<g font-family="Liberation Serif" fill="#262626"><text transform="matrix(0.775 0 0 1 363.00 322.6)" font-size="14.66">1</text></g>
<g font-family="Liberation Serif" fill="#262626"><text transform="matrix(0.745 0 0 1 368.16 362)" font-size="16.80">S</text><text transform="matrix(0.745 0 0 1 376.29 362)" font-size="16.80">1</text></g>
<g font-family="Liberation Serif" fill="#262626"><text transform="matrix(0.826 0 0 1 352.61 389.3)" font-size="13.59">2</text></g>
<g font-family="Liberation Serif" fill="#262626"><text transform="matrix(0.895 0 0 1 422.57 363.3)" font-size="14.51" font-style="italic">R</text></g>
<g font-family="Liberation Serif" fill="#262626"><text transform="matrix(1.163 0 0 1 430.55 363.3)" font-size="10.16">5</text></g>
<g font-family="Liberation Serif" fill="#262626"><text transform="matrix(0.845 0 0 1 399.30 380)" font-size="14.81">1</text><text transform="matrix(0.845 0 0 1 407.62 380)" font-size="14.81">0</text><text transform="matrix(0.845 0 0 1 415.64 380)" font-size="14.81">k</text><text transform="matrix(1.099 0 0 1 424.24 380)" font-size="14.81">Ω</text></g>
<g font-family="Liberation Serif" fill="#262626"><text transform="matrix(0.530 0 0 1 520.77 323.75)" font-size="15.27">M</text><text transform="matrix(0.645 0 0 1 528.68 323.75)" font-size="15.27">K</text><text transform="matrix(0.820 0 0 1 536.99 323.75)" font-size="15.27">1</text></g>
<g font-family="Liberation Serif" fill="#262626"><text transform="matrix(0.471 0 0 1 480.27 351)" font-size="16.80">M</text><text transform="matrix(0.686 0 0 1 487.77 351)" font-size="16.80">C</text><text transform="matrix(0.615 0 0 1 495.69 351)" font-size="16.80">R</text><text transform="matrix(0.612 0 0 1 503.31 351)" font-size="16.80">O</text><text transform="matrix(0.745 0 0 1 511.36 351)" font-size="16.80">P</text><text transform="matrix(0.590 0 0 1 518.94 351)" font-size="16.80">H</text><text transform="matrix(0.612 0 0 1 526.54 351)" font-size="16.80">O</text><text transform="matrix(0.584 0 0 1 534.43 351)" font-size="16.80">N</text><text transform="matrix(0.736 0 0 1 542.10 351)" font-size="16.80">E</text><text transform="matrix(0.745 0 0 1 550.43 351)" font-size="16.80">2</text></g>
<g font-family="Liberation Serif" fill="#262626"><text transform="matrix(0.975 0 0 1 659.13 96)" font-size="15.27">5</text></g>
<g font-family="Liberation Serif" fill="#262626"><text transform="matrix(0.460 0 0 1 629.42 106)" font-size="15.27">V</text><text transform="matrix(0.719 0 0 1 635.05 106)" font-size="10.69">O</text><text transform="matrix(0.676 0 0 1 641.07 106)" font-size="10.69">U</text><text transform="matrix(0.798 0 0 1 646.93 106)" font-size="10.69">T</text></g>
<g font-family="Liberation Serif" fill="#262626"><text transform="matrix(0.947 0 0 1 695.51 96.5)" font-size="16.80">+</text></g>
<g font-family="Liberation Serif" fill="#262626"><text transform="matrix(0.865 0 0 1 699.15 69)" font-size="17.56" font-style="italic">C</text></g>
<g font-family="Liberation Serif" fill="#262626"><text transform="matrix(0.760 0 0 1 710.17 69)" font-size="12.29">2</text><text transform="matrix(0.760 0 0 1 715.34 69)" font-size="12.29">2</text></g>
<g font-family="Liberation Serif" fill="#262626"><text transform="matrix(0.812 0 0 1 686.95 84.4)" font-size="15.42">2</text><text transform="matrix(0.812 0 0 1 694.14 84.4)" font-size="15.42">2</text><text transform="matrix(0.812 0 0 1 701.26 84.4)" font-size="15.42">0</text><text transform="matrix(0.812 0 0 1 713.01 84.4)" font-size="15.42">μ</text><text transform="matrix(0.807 0 0 1 725.43 84.4)" font-size="15.42">F</text></g>
<g font-family="Liberation Serif" fill="#262626"><text transform="matrix(0.745 0 0 1 755.16 96)" font-size="16.80">S</text><text transform="matrix(0.745 0 0 1 763.47 96)" font-size="16.80">o</text><text transform="matrix(0.745 0 0 1 771.41 96)" font-size="16.80">u</text><text transform="matrix(0.745 0 0 1 779.26 96)" font-size="16.80">n</text><text transform="matrix(0.745 0 0 1 787.08 96)" font-size="16.80">d</text><text transform="matrix(0.626 0 0 1 794.49 96)" font-size="16.80">O</text><text transform="matrix(0.589 0 0 1 802.64 96)" font-size="16.80">U</text><text transform="matrix(0.696 0 0 1 810.55 96)" font-size="16.80">T</text></g>
<g font-family="Liberation Serif" fill="#262626"><text transform="matrix(0.523 0 0 1 637.40 171.2)" font-size="16.80">V</text><text transform="matrix(0.850 0 0 1 645.46 171.2)" font-size="16.80">s</text></g>
<g font-family="Liberation Serif" fill="#262626"><text transform="matrix(0.837 0 0 1 661.37 160.8)" font-size="14.81">6</text></g>
<g font-family="Liberation Serif" fill="#262626"><text transform="matrix(0.574 0 0 1 769.90 143.75)" font-size="15.27">V</text><text transform="matrix(0.704 0 0 1 776.99 143.75)" font-size="15.27">C</text><text transform="matrix(0.704 0 0 1 784.43 143.75)" font-size="15.27">C</text></g>
<g font-family="Liberation Serif" fill="#262626"><text transform="matrix(0.594 0 0 1 622.99 192.2)" font-size="16.65">G</text><text transform="matrix(0.548 0 0 1 630.93 192.2)" font-size="16.65">A</text><text transform="matrix(0.752 0 0 1 639.77 192.2)" font-size="16.65">I</text><text transform="matrix(0.576 0 0 1 646.00 192.2)" font-size="16.65">N</text></g>
<g font-family="Liberation Serif" fill="#262626"><text transform="matrix(0.700 0 0 1 657.95 183.8)" font-size="15.42">1</text></g>
<g font-family="Liberation Serif" fill="#262626"><text transform="matrix(0.918 0 0 1 701.70 182.5)" font-size="17.56">+</text></g>
<g font-family="Liberation Serif" fill="#262626"><text transform="matrix(0.865 0 0 1 724.84 183.5)" font-size="13.74" font-style="italic">C</text></g>
<g font-family="Liberation Serif" fill="#262626"><text transform="matrix(1.050 0 0 1 733.34 183.5)" font-size="9.62">2</text><text transform="matrix(1.050 0 0 1 740.64 183.5)" font-size="9.62">3</text></g>
<g font-family="Liberation Serif" fill="#262626"><text transform="matrix(0.812 0 0 1 699.40 210.1)" font-size="15.42">1</text><text transform="matrix(0.812 0 0 1 706.12 210.1)" font-size="15.42">0</text><text transform="matrix(0.812 0 0 1 717.43 210.1)" font-size="15.42">μ</text><text transform="matrix(0.734 0 0 1 729.71 210.1)" font-size="15.42">F</text></g>
<g font-family="Liberation Serif" fill="#262626"><text transform="matrix(0.583 0 0 1 621.60 226)" font-size="16.80">G</text><text transform="matrix(0.537 0 0 1 629.46 226)" font-size="16.80">A</text><text transform="matrix(0.745 0 0 1 638.18 226)" font-size="16.80">I</text><text transform="matrix(0.565 0 0 1 644.37 226)" font-size="16.80">N</text></g>
<g font-family="Liberation Serif" fill="#262626"><text transform="matrix(0.850 0 0 1 660.01 216)" font-size="15.27">8</text></g>
<g font-family="Liberation Serif" fill="#262626"><text transform="matrix(0.895 0 0 1 680.47 238.6)" font-size="14.05" font-style="italic">R</text></g>
<g font-family="Liberation Serif" fill="#262626"><text transform="matrix(1.050 0 0 1 688.41 238.6)" font-size="9.84">2</text><text transform="matrix(1.050 0 0 1 693.23 238.6)" font-size="9.84">0</text></g>
<g font-family="Liberation Serif" fill="#262626"><text transform="matrix(0.850 0 0 1 665.95 256.2)" font-size="14.05">1</text><text transform="matrix(0.850 0 0 1 673.42 256.2)" font-size="14.05">.</text><text transform="matrix(0.850 0 0 1 684.01 256.2)" font-size="14.05">2</text><text transform="matrix(0.850 0 0 1 691.58 256.2)" font-size="14.05">k</text><text transform="matrix(1.105 0 0 1 699.77 256.2)" font-size="14.05">Ω</text></g>
<g font-family="Liberation Serif" fill="#262626"><text transform="matrix(0.895 0 0 1 826.08 160)" font-size="17.18" font-style="italic">R</text></g>
<g font-family="Liberation Serif" fill="#262626"><text transform="matrix(0.613 0 0 1 836.03 160)" font-size="12.03">6</text></g>
<g font-family="Liberation Serif" fill="#262626"><text transform="matrix(0.812 0 0 1 801.80 176.4)" font-size="15.42">1</text><text transform="matrix(0.812 0 0 1 810.03 176.4)" font-size="15.42">0</text><text transform="matrix(0.812 0 0 1 817.97 176.4)" font-size="15.42">k</text><text transform="matrix(1.055 0 0 1 826.44 176.4)" font-size="15.42">Ω</text></g>
<g font-family="Liberation Serif" fill="#262626"><text transform="matrix(0.865 0 0 1 792.01 198)" font-size="15.27" font-style="italic">C</text></g>
<g font-family="Liberation Serif" fill="#262626"><text transform="matrix(1.050 0 0 1 801.21 198)" font-size="10.69">7</text></g>
<g font-family="Liberation Serif" fill="#262626"><text transform="matrix(0.820 0 0 1 792.27 215)" font-size="15.27">0</text><text transform="matrix(0.820 0 0 1 798.92 215)" font-size="15.27">.</text><text transform="matrix(0.820 0 0 1 807.85 215)" font-size="15.27">0</text><text transform="matrix(0.820 0 0 1 814.44 215)" font-size="15.27">1</text><text transform="matrix(0.820 0 0 1 826.33 215)" font-size="15.27">μ</text><text transform="matrix(0.767 0 0 1 838.91 215)" font-size="15.27">F</text></g>
<g font-family="Liberation Serif" fill="#262626"><text transform="matrix(0.865 0 0 1 814.49 241.7)" font-size="15.88" font-style="italic">C</text></g>
<g font-family="Liberation Serif" fill="#262626"><text transform="matrix(0.968 0 0 1 824.34 241.7)" font-size="11.12">2</text><text transform="matrix(0.835 0 0 1 829.50 241.7)" font-size="11.12">4</text></g>
<g font-family="Liberation Serif" fill="#262626"><text transform="matrix(0.781 0 0 1 782.27 258.5)" font-size="16.04">0</text><text transform="matrix(0.781 0 0 1 788.94 258.5)" font-size="16.04">.</text><text transform="matrix(0.781 0 0 1 797.92 258.5)" font-size="16.04">0</text><text transform="matrix(0.781 0 0 1 804.61 258.5)" font-size="16.04">5</text><text transform="matrix(0.781 0 0 1 816.50 258.5)" font-size="16.04">μ</text><text transform="matrix(0.734 0 0 1 829.13 258.5)" font-size="16.04">F</text></g>
</svg>
</body></html>
